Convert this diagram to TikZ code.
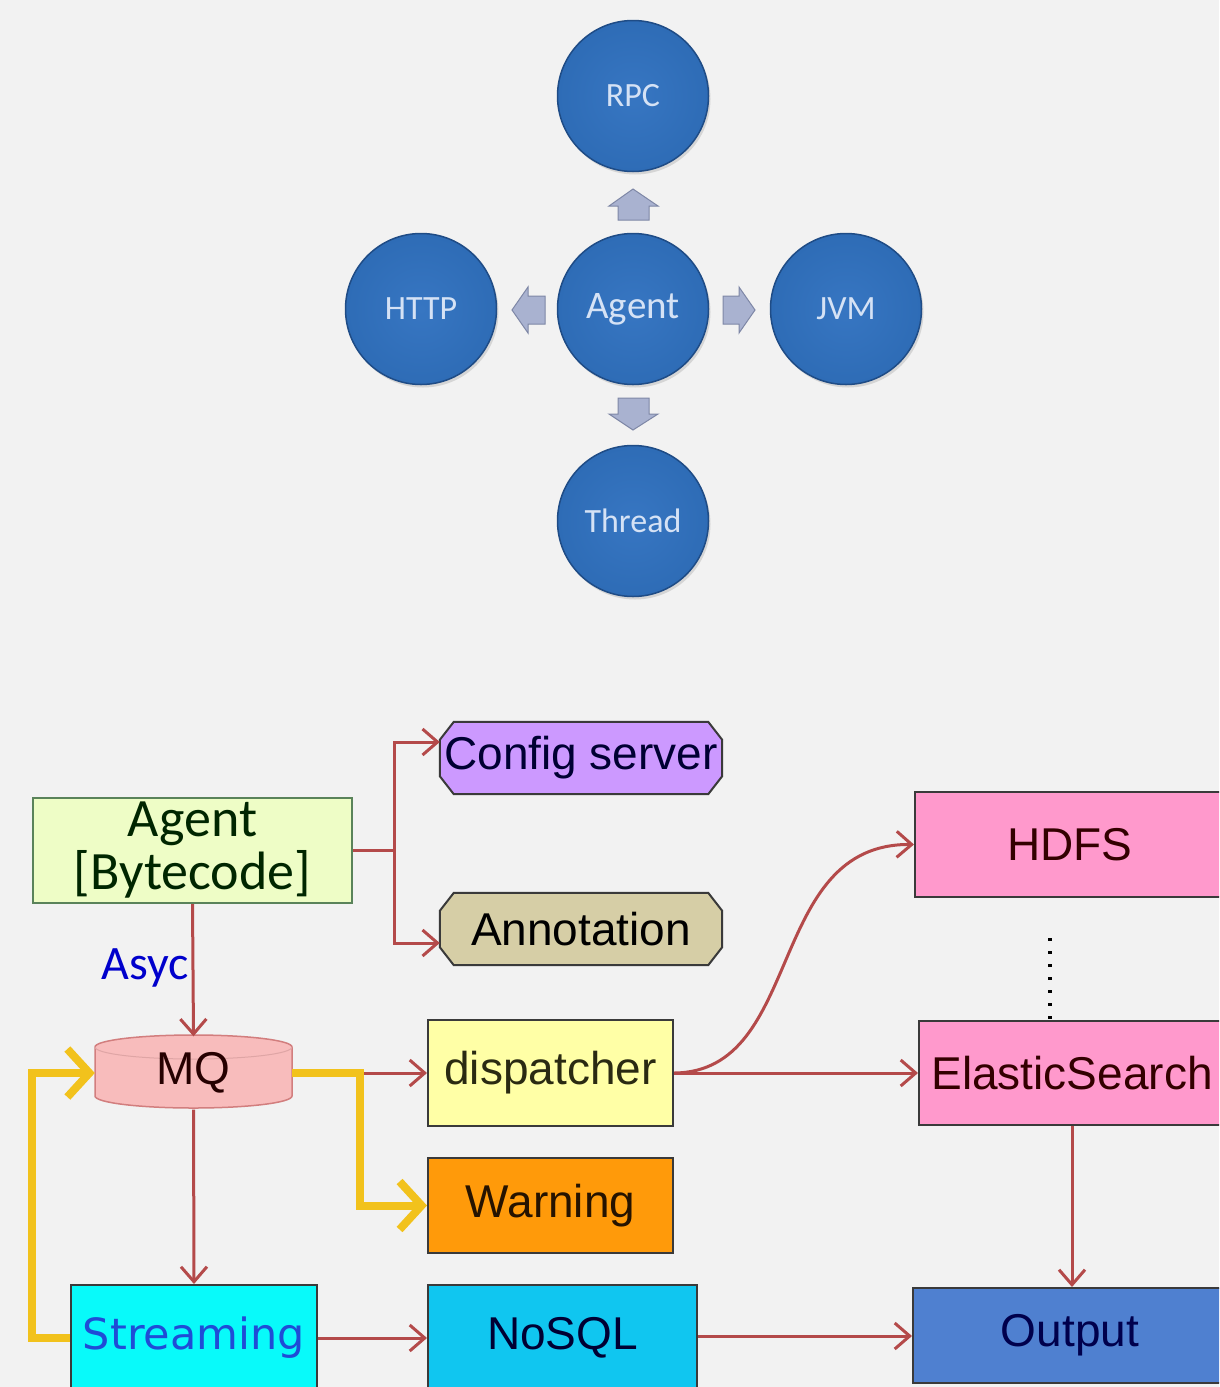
\documentclass[tikz,border=0pt]{standalone}
\usepackage{fontspec}
\setmainfont{Liberation Sans}
\newfontfamily\carl{Carlito}
\newfontfamily\dvs{DejaVu Sans}
\usetikzlibrary{arrows.meta,shadows}
\pgfdeclarelayer{background}
\pgfsetlayers{background,main}
\definecolor{bg}{HTML}{F2F2F2}
\definecolor{circblue}{HTML}{2E6CB6}
\definecolor{circinner}{HTML}{3776C2}
\definecolor{circedge}{HTML}{1F4C86}
\definecolor{circtext}{HTML}{D5E2F5}
\definecolor{barrow}{HTML}{A9B2D0}
\definecolor{barrowedge}{HTML}{7E87A6}
\definecolor{redc}{HTML}{B44A4A}
\definecolor{yelc}{HTML}{F2C21C}
\definecolor{agentfill}{HTML}{EEFDC6}
\definecolor{cfgfill}{HTML}{CC99FF}
\definecolor{annfill}{HTML}{D6CEA6}
\definecolor{mqfill}{HTML}{F8BCBC}
\definecolor{mqedge}{HTML}{D27E7E}
\definecolor{dispfill}{HTML}{FFFFA6}
\definecolor{disptext}{HTML}{2A2A12}
\definecolor{warnfill}{HTML}{FF9A0A}
\definecolor{streamfill}{HTML}{08FAFA}
\definecolor{streamtext}{HTML}{1F4CD6}
\definecolor{nosqlfill}{HTML}{10C6F0}
\definecolor{pinkfill}{HTML}{FF99CC}
\definecolor{outfill}{HTML}{4F80D0}
\definecolor{boxedge}{HTML}{3A3A3A}
\begin{document}
\begin{tikzpicture}[x=1pt,y=-1pt,
  circ/.style={circle, minimum size=151pt, inner sep=0pt, inner color=circinner, outer color=circblue, draw=circedge,
    line width=1.5pt, text=circtext, font=\carl\fontsize{34}{40}\selectfont,
    drop shadow={opacity=0.25, shadow xshift=2pt, shadow yshift=-3pt}},
  barr/.style={fill=barrow, draw=barrowedge, line width=1pt},
  box/.style={rectangle, draw=boxedge, line width=2pt, inner sep=0pt,
    font=\fontsize{46}{52}\selectfont},
  chbox/.style={rectangle, inner sep=0pt, font=\fontsize{46}{52}\selectfont},
  chfill/.style={draw=boxedge, line width=2pt},
  redarrow/.style={draw=redc, line width=3pt, -{Straight Barb[length=15pt,width=26pt]}},
  redline/.style={draw=redc, line width=3pt},
  yel/.style={draw=yelc, line width=8pt, -{Straight Barb[length=22pt,width=48pt]}}
]
\useasboundingbox (0,0) rectangle (1219,1387);
\begin{pgfonlayer}{background}
\fill[bg] (0,0) rectangle (1219,1387);
\end{pgfonlayer}
\clip (0,0) rectangle (1219,1387);

% ---------- top: agent star ----------
\node[circ] (rpc) at (633,96) {RPC};
\node[circ, font=\carl\fontsize{39}{44}\selectfont] (agc) at (633,309) {Agent};
\node[circ] (http) at (421,309) {HTTP};
\node[circ] (jvm) at (846,309) {JVM};
\node[circ] (thread) at (633,521) {Thread};

\draw[barr] (633,189) -- (658,206) -- (649,206) -- (649,220) -- (618,220) -- (618,206) -- (609,206) -- cycle;
\draw[barr] (633,430) -- (658,414) -- (649,414) -- (649,398) -- (618,398) -- (618,414) -- (609,414) -- cycle;
\draw[barr] (512,310) -- (528,287) -- (528,296) -- (545,296) -- (545,324) -- (528,324) -- (528,333) -- cycle;
\draw[barr] (755,310) -- (739,287) -- (739,296) -- (723,296) -- (723,324) -- (739,324) -- (739,333) -- cycle;

% ---------- bottom: pipeline ----------
\node[box, fill=agentfill, draw=boxedge!60!green!40!gray, text=black!85!green, align=center,
  font=\carl\fontsize{54}{53}\selectfont, minimum width=319pt, minimum height=105pt] (agent) at (192.5,850.5)
  {Agent\\{}[Bytecode]};
\node[chbox, text=black!80!blue, minimum width=282pt, minimum height=72pt] (cfg) at (581,758) {Config server};
\node[chbox, text=black, minimum width=282pt, minimum height=72pt] (ann) at (581,929) {Annotation};
\begin{pgfonlayer}{background}
\foreach \n/\c in {cfg/cfgfill, ann/annfill}{
  \filldraw[chfill, fill=\c] ([xshift=14pt]\n.north west) -- ([xshift=-14pt]\n.north east)
    -- ([yshift=-18pt]\n.north east) -- ([yshift=18pt]\n.south east)
    -- ([xshift=-14pt]\n.south east) -- ([xshift=14pt]\n.south west)
    -- ([yshift=18pt]\n.south west) -- ([yshift=-18pt]\n.north west) -- cycle;
}
\end{pgfonlayer}

% MQ cylinder
\fill[mqfill, draw=mqedge, line width=1.5pt] (95,1047) -- (95,1096)
  arc[start angle=180, end angle=360, x radius=98.5pt, y radius=12pt] -- (292,1047)
  arc[start angle=0, end angle=180, x radius=98.5pt, y radius=12pt] -- cycle;
\draw[mqedge!70, line width=1pt] (95,1047) arc[start angle=180, end angle=360, x radius=98.5pt, y radius=12pt];
\node[rectangle, minimum width=197pt, minimum height=73pt, inner sep=0pt, text=black!85!red,
  font=\fontsize{46}{52}\selectfont] (mq) at (193.5,1073) {MQ};

\node[box, fill=dispfill, text=disptext, minimum width=245pt, minimum height=106pt] (disp) at (550.5,1073) {dispatcher};
\node[box, fill=warnfill, text=black!85!orange, minimum width=245pt, minimum height=95pt] (warn) at (550.5,1205.5) {Warning};
\node[box, fill=streamfill, text=streamtext, font=\dvs\fontsize{43}{50}\selectfont,
  minimum width=246pt, minimum height=106pt] (st) at (194,1338) {Streaming};
\node[box, fill=nosqlfill, text=black!80!blue, minimum width=269pt, minimum height=106pt] (nosql) at (562.5,1338) {NoSQL};
\node[box, fill=pinkfill, text=black!80!red, minimum width=310pt, minimum height=105pt] (hdfs) at (1070,844.5) {HDFS};
\node[box, fill=pinkfill, text=black!80!red, minimum width=306pt, minimum height=104pt] (es) at (1072,1073) {ElasticSearch};
\node[box, fill=outfill, text=black!70!blue, minimum width=314pt, minimum height=95pt] (out) at (1070,1335.5) {Output};

\node[anchor=base east, text=blue!80!black, font=\carl\fontsize{48}{52}\selectfont, inner sep=0pt] (asyc) at (189,979) {Asyc};

% connectors
\coordinate (trunk) at (394,0);
\draw[redline] (agent.east) -- (agent.east -| trunk);
\draw[redarrow] (agent.east -| trunk) |- ([yshift=16pt]cfg.west);
\draw[redarrow] (agent.east -| trunk) |- ([yshift=-14pt]ann.west);
\draw[redarrow] (agent.south) -- (mq.north);
\draw[redarrow] (mq.east) -- (disp.west);
\draw[redarrow] (mq.south) -- (st.north);
\draw[redarrow] (st.east) -- (nosql.west);
\draw[redarrow] ([yshift=2pt]nosql.east) -- ([yshift=2pt]nosql.east -| out.west);
\draw[redarrow] (disp.east) -- (es.west);
\draw[redarrow] (disp.east) .. controls (805,1072) and (765,843) .. (hdfs.west);
\draw[redarrow] (es.south) -- (es.south |- out.north);

\coordinate (dotTop) at (1050,938);
\draw[black, line width=3.5pt, dash pattern=on 3pt off 10pt] (dotTop) -- (dotTop |- es.north);

% yellow flows
\coordinate (warnx) at (360,0);
\draw[yel] (mq.east) -- (mq.east -| warnx) -- (warnx |- warn.west) -- (warn.west);
\coordinate (loopx) at (32,0);
\draw[yel] (st.west) -- (st.west -| loopx) -- (loopx |- mq.west) -- (mq.west);
\end{tikzpicture}
\end{document}
